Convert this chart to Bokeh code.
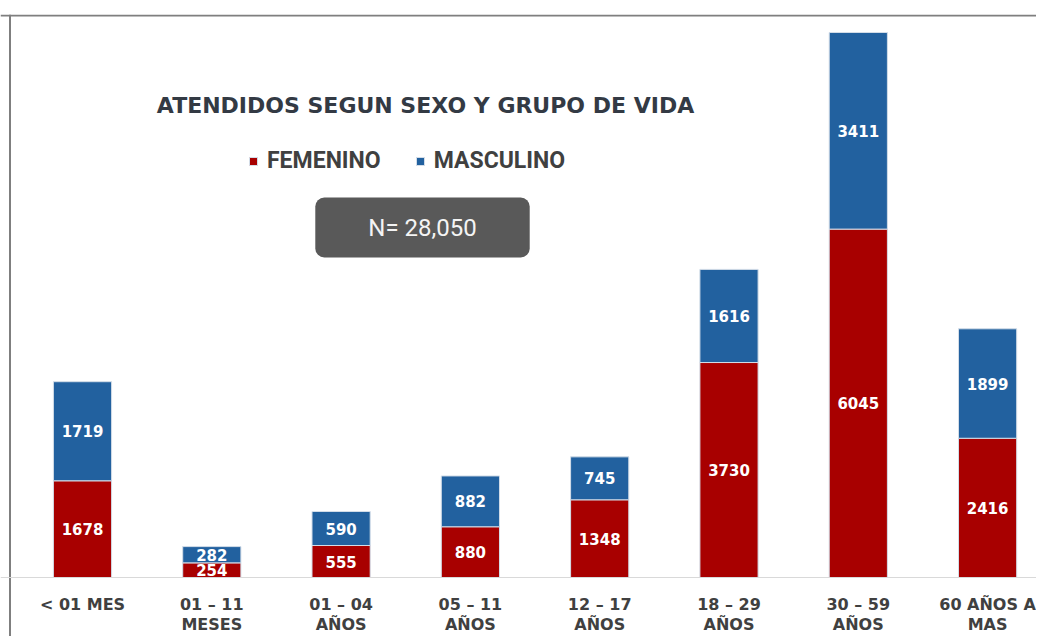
from bokeh.plotting import figure
from bokeh.models import Range1d, Span, Label, ColumnDataSource, Legend, LegendItem
from bokeh.core.properties import value
from bokeh.embed import file_html
from bokeh.resources import INLINE

# ---------------- data ----------------
cat_line1 = ["< 01 MES", "01 – 11", "01 – 04", "05 – 11", "12 – 17", "18 – 29", "30 – 59", "60 AÑOS A"]
cat_line2 = ["", "MESES", "AÑOS", "AÑOS", "AÑOS", "AÑOS", "AÑOS", "MAS"]
femenino = [1678, 254, 555, 880, 1348, 3730, 6045, 2416]
masculino = [1719, 282, 590, 882, 745, 1616, 3411, 1899]
series_names = ["FEMENINO", "MASCULINO"]
title_text = "ATENDIDOS SEGUN SEXO Y GRUPO DE VIDA"
total_text = "N= 28,050"

# ---------------- layout (canvas pixels) ----------------
W, H = 1036, 636
FRAME_TOP = 14
BASE_Y = 577          # baseline
TALLEST_TOP = 32      # top of the tallest bar
FIRST_X = 82          # centre of first bar
STEP = 129.3          # px between bar centres
BAR_W = 0.45

totals = [f + m for f, m in zip(femenino, masculino)]
k = (BASE_Y - TALLEST_TOP) / max(totals)   # px per unit
x_start = -FIRST_X / STEP
x_end = x_start + W / STEP
y_end = (BASE_Y - FRAME_TOP) / k
y_start = -(H - BASE_Y) / k


def dx(cx):
    return x_start + cx / STEP


def dy(cy):
    return (BASE_Y - cy) / k


RED = "#a80000"
BLUE = "#22619f"
TEXT_DARK = "#404040"

p = figure(width=W, height=H, output_backend="svg", toolbar_location=None,
           x_range=Range1d(x_start, x_end), y_range=Range1d(y_start, y_end),
           x_axis_type=None, y_axis_type=None,
           min_border_left=0, min_border_right=0, min_border_top=FRAME_TOP, min_border_bottom=0)
p.outline_line_color = None
p.background_fill_color = "white"
p.border_fill_color = "white"

# chart frame (top and left edges visible)
p.add_layout(Span(location=dy(15), dimension="width", line_color="#7f7f7f", line_width=2))
p.add_layout(Span(location=dx(9.5), dimension="height", line_color="#7f7f7f", line_width=2))
# baseline
p.add_layout(Span(location=0, dimension="width", line_color="#d9d9d9", line_width=1))

source = ColumnDataSource(dict(x=list(range(len(femenino))), FEMENINO=femenino, MASCULINO=masculino))
rs = p.vbar_stack(series_names, x="x", width=BAR_W, source=source,
                  color=[RED, BLUE], line_color="#d3dde8", line_width=1)

# value labels
fem_mid = [f / 2 for f in femenino]
mas_mid = [f + m / 2 for f, m in zip(femenino, masculino)]
xs = list(range(len(femenino)))
for mids, vals in ((fem_mid, femenino), (mas_mid, masculino)):
    p.text(x=xs, y=mids, text=[str(v) for v in vals], text_align="center", text_baseline="middle",
           text_color="white", text_font=value("DejaVu Sans"), text_font_style="bold",
           text_font_size="15px")

# category labels
for line, cy in ((cat_line1, 604), (cat_line2, 624)):
    p.text(x=xs, y=[dy(cy)] * len(xs), text=line, text_align="center", text_baseline="middle",
           text_color=TEXT_DARK, text_font=value("DejaVu Sans"), text_font_style="bold",
           text_font_size="16px")

# title
p.add_layout(Label(x=dx(425), y=dy(105), text=title_text, text_align="center", text_baseline="middle",
                   text_color="#333a44", text_font="DejaVu Sans", text_font_style="bold",
                   text_font_size="22px"))

# N box
p.add_layout(Label(x=dx(422), y=dy(227), text=total_text, text_align="center", text_baseline="middle",
                   text_color="#f4f4f4", text_font="Roboto", text_font_size="24px",
                   background_fill_color="#595959", border_radius=9, padding=(53, 16)))

# legend
legend = Legend(items=[LegendItem(label=n, renderers=[r]) for n, r in zip(series_names, rs)],
                orientation="horizontal", location=(248, 462),
                glyph_width=10, glyph_height=10, label_standoff=9, spacing=34,
                padding=0, margin=0, border_line_color=None, background_fill_alpha=0,
                label_text_font="Roboto", label_text_font_style="bold",
                label_text_font_size="23px", label_text_color=TEXT_DARK)
p.add_layout(legend, "center")

open("out.html", "w").write(file_html(p, INLINE))
